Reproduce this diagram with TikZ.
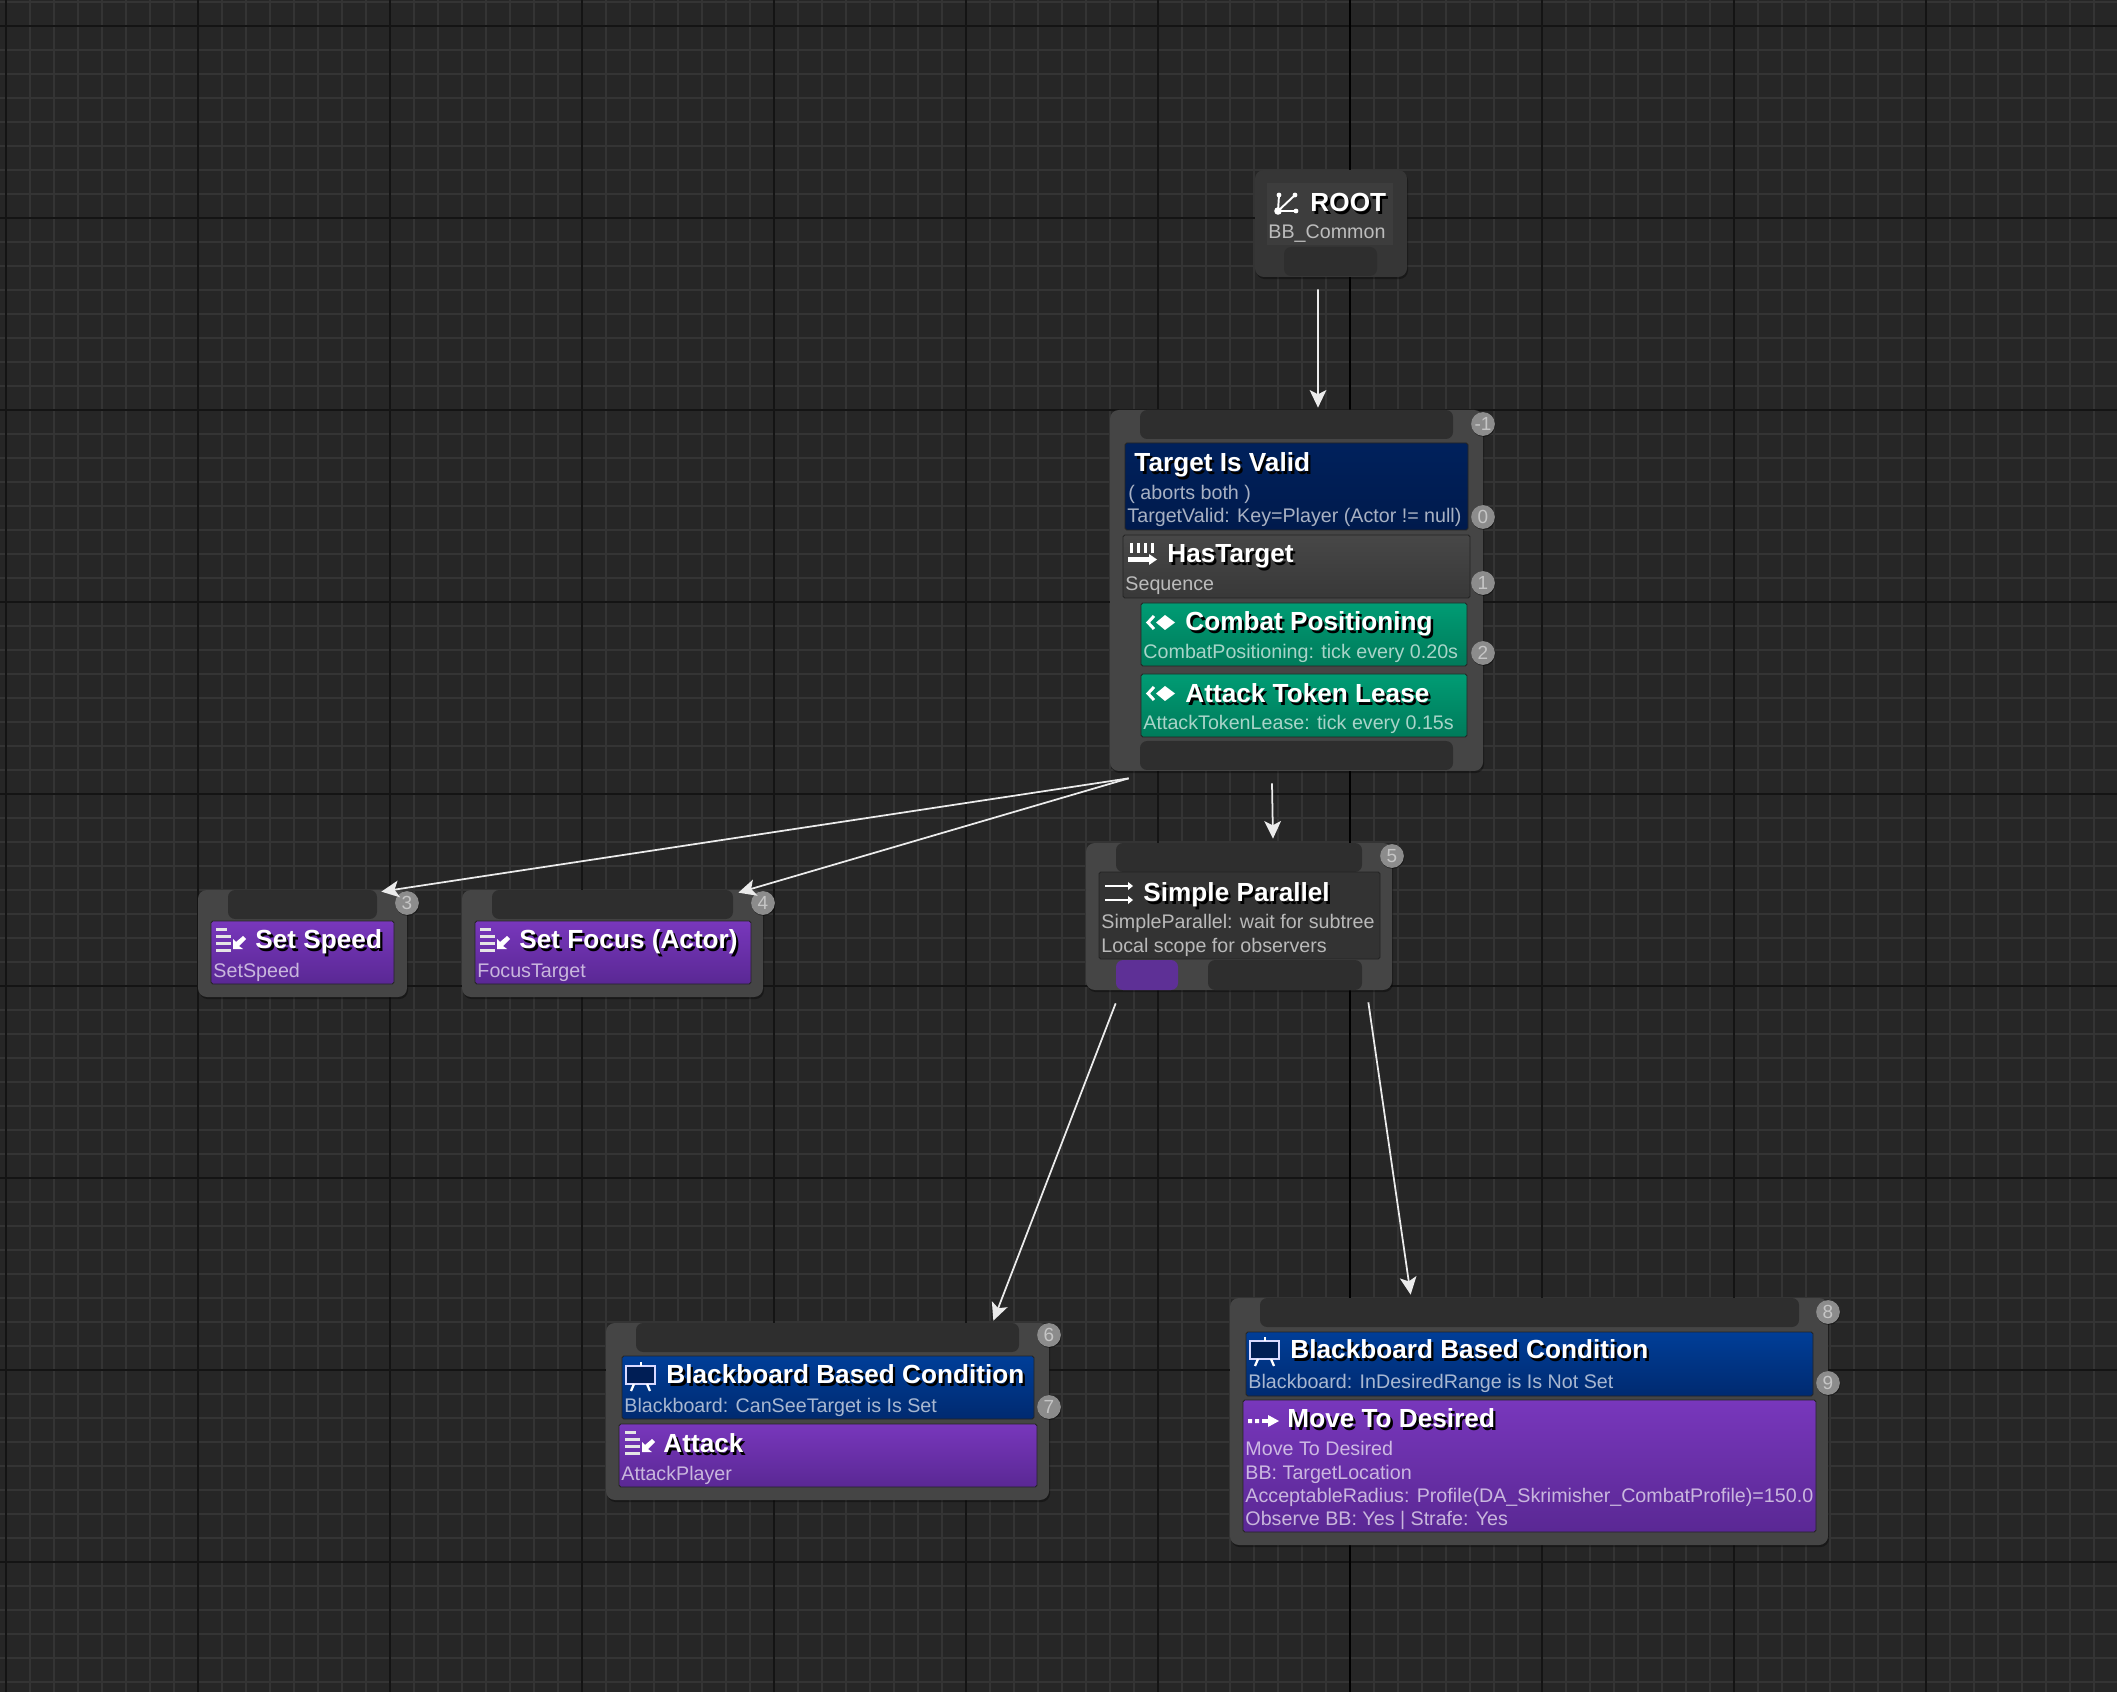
\documentclass[tikz,border=0pt]{standalone}
\usepackage{fontspec}
\setmainfont{Liberation Sans}
\usetikzlibrary{arrows.meta,fit,shadows}
\definecolor{canvas}{HTML}{262626}
\definecolor{gridminor}{HTML}{343434}
\definecolor{gridmajor}{HTML}{141414}
\definecolor{shell}{HTML}{454545}
\definecolor{pinbar}{HTML}{2E2E2E}
\definecolor{edgeline}{HTML}{242424}
\newcommand{\shd}[1]{\rlap{\hspace{1.3pt}\raisebox{-1.3pt}{\textcolor{black}{#1}}}#1}
\tikzset{
  panel/.style={fit={#1}, fill=shell, rounded corners=5pt, inner sep=0pt, drop shadow={shadow xshift=0.6pt, shadow yshift=-1.2pt, opacity=0.35, fill=black}},
  pinbox/.style={fit={#1}, fill=pinbar, rounded corners=4pt, inner sep=0pt},
  body/.style={fit={#1}, draw=edgeline, line width=0.5pt, rounded corners=1pt, inner sep=0pt},
  navy/.style={body={#1}, top color={rgb,255:red,0;green,33;blue,92}, bottom color={rgb,255:red,0;green,26;blue,76}},
  blackboard/.style={body={#1}, top color={rgb,255:red,0;green,62;blue,152}, bottom color={rgb,255:red,0;green,42;blue,112}},
  mint/.style={body={#1}, top color={rgb,255:red,0;green,156;blue,116}, bottom color={rgb,255:red,0;green,122;blue,90}},
  grape/.style={body={#1}, top color={rgb,255:red,120;green,55;blue,188}, bottom color={rgb,255:red,90;green,40;blue,148}},
  slate/.style={body={#1}, top color=black!72!white, bottom color=black!78!white},
  title/.style={anchor=base west, inner sep=0pt, xshift=-0.5pt, yshift=-0.5pt, text=white, font=\fontsize{14.9}{16}\selectfont\bfseries},
  sub/.style={anchor=base west, inner sep=0pt, xshift=-0.5pt, text=white, text opacity=0.66, font=\fontsize{11.2}{12}\selectfont},
  badge/.style={circle, fill=black!45!white, minimum size=13.5pt, inner sep=0pt, text=white, text opacity=0.5, font=\fontsize{10.8}{11}\selectfont, drop shadow={shadow xshift=0.3pt, shadow yshift=-0.6pt, opacity=0.4, fill=black}},
  flow/.style={-{Stealth[length=10pt,width=9.5pt,inset=2.4pt]}, draw=white!92!black, line width=1pt},
  pics/rooticon/.style={code={
    \draw[white, line width=1.1pt] (2,19) -- (3,3) (2,19) -- (19,3) (2,19) -- (20,19);
    \fill[white] (2,19) circle (3.8) (3,3) circle (2.4) (19,3) circle (2.4) (20,19) circle (2.4);
  }},
  pics/seqicon/.style={code={
    \foreach \s in {2,9,16,23} {\fill[white] (\s,0) rectangle (\s+3,10);}
    \fill[white] (0,14) rectangle (23,19);
    \fill[white] (21,11) -- (29,16.5) -- (21,22) -- cycle;
  }},
  pics/serviceicon/.style={code={
    \draw[white, line width=1.7pt] (7,1) -- (1,7.5) -- (7,14);
    \fill[white] (18,0) -- (28,7.5) -- (18,15) -- (9,7.5) -- cycle;
  }},
  pics/taskicon/.style={code={
    \foreach \s/\w in {0/11,7/15,14/15,21/15} {\fill[white!90!black] (0,\s) rectangle (\w,\s+3);}
    \fill[white] (17,21) -- (17,11) -- (20,14) -- (27,8) -- (30,11) -- (23,18) -- (27,21) -- cycle;
  }},
  pics/paralleicon/.style={code={
    \draw[white, line width=1.3pt] (0,4) -- (25,4) (0,18) -- (25,18);
    \fill[white] (23,0) -- (28,4) -- (23,8) -- cycle (23,14) -- (28,18) -- (23,22) -- cycle;
  }},
  pics/boardicon/.style={code={
    \draw[white!85!blue, line width=1.4pt, fill={rgb,255:red,0;green,30;blue,85}] (0,4) rectangle (29,22);
    \fill[white] (13.5,0) rectangle (15.5,4);
    \draw[white, line width=1.3pt] (8,22) -- (5,29) (21,22) -- (24,29);
  }},
  pics/moveicon/.style={code={
    \fill[white] (0,4) rectangle (4,8) (7,4) rectangle (11,8);
    \fill[white] (14,4) rectangle (23,8);
    \fill[white] (20,0) -- (31,6) -- (20,12) -- cycle;
  }},
}
\begin{document}
\begin{tikzpicture}[x=0.02cm, y=-0.02cm]
\useasboundingbox (0,0) rectangle (2117,1692);
\fill[canvas] (0,0) rectangle (2117,1692);
% grid
\foreach \k in {0,...,88} {\draw[gridminor, line width=0.8pt] ({6+24*\k},0) -- ({6+24*\k},1692);}
\foreach \k in {0,...,70} {\draw[gridminor, line width=0.8pt] (0,{2+24*\k}) -- (2117,{2+24*\k});}
\foreach \k in {0,...,11} {\draw[gridmajor, line width=1.1pt] ({6+192*\k},0) -- ({6+192*\k},1692);}
\foreach \k in {0,...,8} {\draw[gridmajor, line width=1.1pt] (0,{26+192*\k}) -- (2117,{26+192*\k});}
\draw[black, line width=1.5pt] (1350,0) -- (1350,1692);

% root
\node[panel={(1255,170) (1407,277)}, fill=black!79!white] (root) {};
\node[fit={(1267,183) (1393,245)}, fill=black!76!white, inner sep=0pt] (rootface) {};
\node[pinbox={(1284,247) (1377,276)}] (rootpin) {};
\pic at (1276,192) {rooticon};
\node[title] (rootname) at (1311,211) {\shd{ROOT}};
\node[sub] (rootsub) at (1269,239) {BB\_Common};

% target / sequence
\node[panel={(1110,410) (1483,771)}] (seq) {};
\node[pinbox={(1140,410) (1453,439)}] (seqtop) {};
\node[pinbox={(1140,741) (1453,770)}] (seqpin) {};
\node[navy={(1125,443) (1468,530)}] (valid) {};
\node[title] (validname) at (1135,471) {\shd{Target Is Valid}};
\node[sub] (validsub) at (1129,500) {( aborts both )};
\node[sub] (validkey) at (1128,523) {TargetValid: Key=Player (Actor != null)};
\node[slate={(1123,535) (1470,598)}] (hastarget) {};
\pic at (1128,543) {seqicon};
\node[title] (hastargetname) at (1168,562) {\shd{HasTarget}};
\node[sub] (hastargetsub) at (1126,591) {Sequence};
\node[mint={(1141,603) (1467,666)}] (combat) {};
\pic at (1147,615) {serviceicon};
\node[title] (combatname) at (1186,630) {\shd{Combat Positioning}};
\node[sub] (combatsub) at (1144,659) {CombatPositioning: tick every 0.20s};
\node[mint={(1141,674) (1467,737)}] (lease) {};
\pic at (1147,686) {serviceicon};
\node[title] (leasename) at (1186,702) {\shd{Attack Token Lease}};
\node[sub] (leasesub) at (1144,730) {AttackTokenLease: tick every 0.15s};

% set speed
\node[panel={(198,890) (407,997)}] (speed) {};
\node[pinbox={(228,890) (377,919)}] (speedtop) {};
\node[grape={(211,921) (394,984)}] (speedtask) {};
\pic at (216,928) {taskicon};
\node[title] (speedname) at (256,948) {\shd{Set Speed}};
\node[sub] (speedsub) at (214,977) {SetSpeed};

% set focus
\node[panel={(462,890) (763,997)}] (focus) {};
\node[pinbox={(492,890) (733,919)}] (focustop) {};
\node[grape={(475,921) (751,984)}] (focustask) {};
\pic at (480,928) {taskicon};
\node[title] (focusname) at (520,948) {\shd{Set Focus (Actor)}};
\node[sub] (focussub) at (478,977) {FocusTarget};

% simple parallel
\node[panel={(1086,843) (1392,990)}] (parallel) {};
\node[pinbox={(1116,843) (1362,872)}] (paralleltop) {};
\node[body={(1099,872) (1380,959)}, fill=black!80!white] (parallelface) {};
\node[pinbox={(1116,960) (1178,990)}, fill={rgb,255:red,94;green,48;blue,150}] (parallelmain) {};
\node[pinbox={(1208,960) (1362,990)}] (parallelback) {};
\pic at (1105,882) {paralleicon};
\node[title] (parallelname) at (1144,901) {\shd{Simple Parallel}};
\node[sub] (parallelsub) at (1102,928) {SimpleParallel: wait for subtree};
\node[sub] (parallelscope) at (1102,952) {Local scope for observers};

% attack
\node[panel={(606,1323) (1049,1500)}] (attack) {};
\node[pinbox={(636,1323) (1019,1352)}] (attacktop) {};
\node[blackboard={(622,1356) (1034,1419)}] (attackcheck) {};
\pic at (626,1362) {boardicon};
\node[title] (attackcheckname) at (667,1383) {\shd{Blackboard Based Condition}};
\node[sub] (attackchecksub) at (625,1412) {Blackboard: CanSeeTarget is Is Set};
\node[grape={(619,1424) (1037,1487)}] (attacktask) {};
\pic at (625,1431) {taskicon};
\node[title] (attackname) at (664,1452) {\shd{Attack}};
\node[sub] (attacksub) at (622,1480) {AttackPlayer};

% move to desired
\node[panel={(1230,1298) (1828,1545)}] (move) {};
\node[pinbox={(1260,1298) (1799,1327)}] (movetop) {};
\node[blackboard={(1246,1332) (1813,1396)}] (movecheck) {};
\pic at (1250,1337) {boardicon};
\node[title] (movecheckname) at (1291,1358) {\shd{Blackboard Based Condition}};
\node[sub] (movechecksub) at (1249,1388) {Blackboard: InDesiredRange is Is Not Set};
\node[grape={(1243,1400) (1816,1532)}] (movetask) {};
\pic at (1248,1415) {moveicon};
\node[title] (movename) at (1288,1427) {\shd{Move To Desired}};
\node[sub] (moveline) at (1246,1455) {Move To Desired};
\node[sub] (movebb) at (1246,1479) {BB: TargetLocation};
\node[sub] (moveradius) at (1246,1502) {AcceptableRadius: Profile(DA\_Skrimisher\_CombatProfile)=150.0};
\node[sub] (moveobserve) at (1246,1525) {Observe BB: Yes | Strafe: Yes};

% execution order
\foreach \t/\x/\y in {-1/1483/424, 0/1483/517, 1/1483/583, 2/1483/653, 3/407/903, 4/763/903, 5/1392/856, 6/1049/1335, 7/1049/1407, 8/1828/1312, 9/1828/1383} {
  \node[badge] (badge\t) at (\x,\y) {\t};
}

% links
\draw[flow] ([shift={(-12.5,13)}]rootpin.south) -- ([shift={(21.5,-2)}]seq.north);
\draw[flow] ([shift={(19,7)}]seq.south west) -- ([shift={(-26,2)}]speed.north east);
\draw[flow] ([shift={(19,7)}]seq.south west) -- ([shift={(-25,3)}]focus.north east);
\draw[flow] ([shift={(-24.5,12)}]seq.south) -- ([shift={(34,-4)}]parallel.north);
\draw[flow] ([shift={(30,13)}]parallel.south west) -- ([shift={(-56,-2)}]attack.north east);
\draw[flow] ([shift={(-24,12)}]parallel.south east) -- ([shift={(181,-3)}]move.north west);
\end{tikzpicture}
\end{document}
